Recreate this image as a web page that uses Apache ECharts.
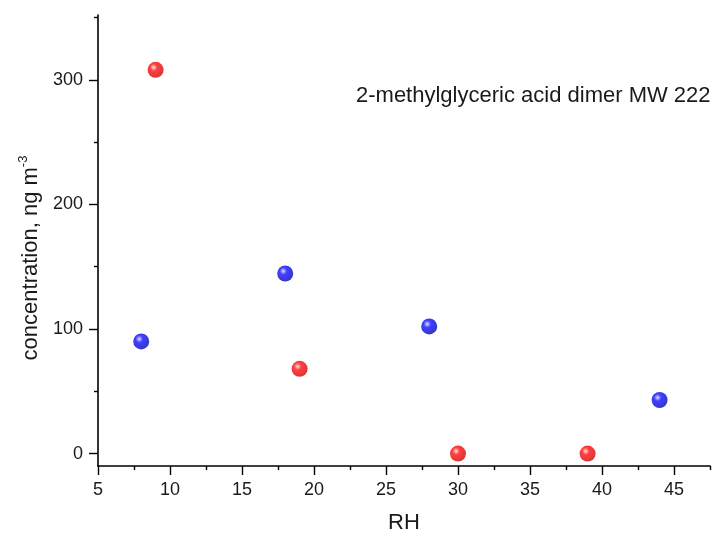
<!DOCTYPE html>
<html>
<head>
<meta charset="utf-8">
<script src="https://cdn.jsdelivr.net/npm/echarts@6/dist/echarts.min.js"></script>
<style>
html,body{margin:0;padding:0;background:#fff;}
#chart{width:722px;height:536px;}
</style>
</head>
<body>
<div id="chart"></div>
<script>
// Data
const rhRed = [9, 19, 30, 39];
const concRed = [308, 68, 0, 0];
const rhBlue = [8, 18, 28, 44];
const concBlue = [90, 144.5, 102, 43];

const xMajorTicks = [5, 10, 15, 20, 25, 30, 35, 40, 45];
const xMinorTicks = [7.5, 12.5, 17.5, 22.5, 27.5, 32.5, 37.5, 42.5, 47.5];
const yMajorTicks = [0, 100, 200, 300];
const yMinorTicks = [50, 150, 250, 350];

const xName = 'RH';
const yNameMain = 'concentration, ng m';
const yNameSup = '-3';
const annotation = '2-methylglyceric acid dimer MW 222';

const FONT = 'Liberation Sans, Arial, sans-serif';

function pairs(xs, ys) { return xs.map((x, i) => [x, ys[i]]); }

function sphere(light, mid, dark) {
  return {
    type: 'radial', x: 0.38, y: 0.35, r: 0.75,
    colorStops: [
      { offset: 0, color: light },
      { offset: 0.3, color: mid },
      { offset: 1, color: dark }
    ]
  };
}

const chart = echarts.init(document.getElementById('chart'), null, { renderer: 'canvas' });

const axisLineStyle = { color: '#000', width: 1.6 };

chart.setOption({
  animation: false,
  backgroundColor: '#fff',
  grid: { left: 98, right: 12, top: 15, bottom: 70, containLabel: false, outerBoundsMode: 'none' },
  xAxis: [
    {
      type: 'value', min: 5, max: 47.5,
      splitLine: { show: false },
      axisLine: { show: true, onZero: false, lineStyle: axisLineStyle },
      axisTick: { show: true, inside: false, length: 9, customValues: xMajorTicks, lineStyle: { color: '#000', width: 1.4 } },
      axisLabel: { show: true, customValues: xMajorTicks, margin: 15, fontSize: 18, color: '#1a1a1a', fontFamily: FONT },
      name: xName, nameLocation: 'middle', nameGap: 46,
      nameTextStyle: { fontSize: 22, color: '#1a1a1a', fontFamily: FONT }
    },
    {
      type: 'value', min: 5, max: 47.5, position: 'bottom',
      splitLine: { show: false },
      axisLine: { show: false, onZero: false },
      axisTick: { show: true, inside: false, length: 4, customValues: xMinorTicks, lineStyle: { color: '#000', width: 1.4 } },
      axisLabel: { show: false }
    }
  ],
  yAxis: [
    {
      type: 'value', min: -10, max: 352,
      splitLine: { show: false },
      axisLine: { show: true, onZero: false, lineStyle: axisLineStyle },
      axisTick: { show: true, inside: false, length: 9, customValues: yMajorTicks, lineStyle: { color: '#000', width: 1.4 } },
      axisLabel: { show: true, customValues: yMajorTicks, margin: 15, fontSize: 18, color: '#1a1a1a', fontFamily: FONT }
    },
    {
      type: 'value', min: -10, max: 352, position: 'left',
      splitLine: { show: false },
      axisLine: { show: false, onZero: false },
      axisTick: { show: true, inside: false, length: 4, customValues: yMinorTicks, lineStyle: { color: '#000', width: 1.4 } },
      axisLabel: { show: false }
    }
  ],
  graphic: [
    {
      type: 'text', x: 356, y: 96,
      style: { text: annotation, fontSize: 22, fontFamily: FONT, fill: '#1a1a1a', align: 'left', verticalAlign: 'middle' }
    },
    {
      type: 'text', x: 31, y: 258, rotation: Math.PI / 2,
      style: {
        text: '{a|' + yNameMain + '}{b|' + yNameSup + '}',
        align: 'center', verticalAlign: 'middle',
        rich: {
          a: { fontSize: 22, fontFamily: FONT, fill: '#1a1a1a', lineHeight: 28 },
          b: { fontSize: 13, fontFamily: FONT, fill: '#1a1a1a', verticalAlign: 'top', lineHeight: 28 }
        }
      }
    }
  ],
  series: [
    {
      type: 'scatter', xAxisIndex: 0, yAxisIndex: 0,
      data: pairs(rhRed, concRed),
      symbol: 'circle', symbolSize: 16,
      itemStyle: { color: sphere('#ffd6d6', '#ff1010', '#c80000') }
    },
    {
      type: 'scatter', xAxisIndex: 0, yAxisIndex: 0,
      data: pairs(rhBlue, concBlue),
      symbol: 'circle', symbolSize: 16,
      itemStyle: { color: sphere('#d6d6ff', '#1010ff', '#0000b0') }
    }
  ]
});
</script>
</body>
</html>
